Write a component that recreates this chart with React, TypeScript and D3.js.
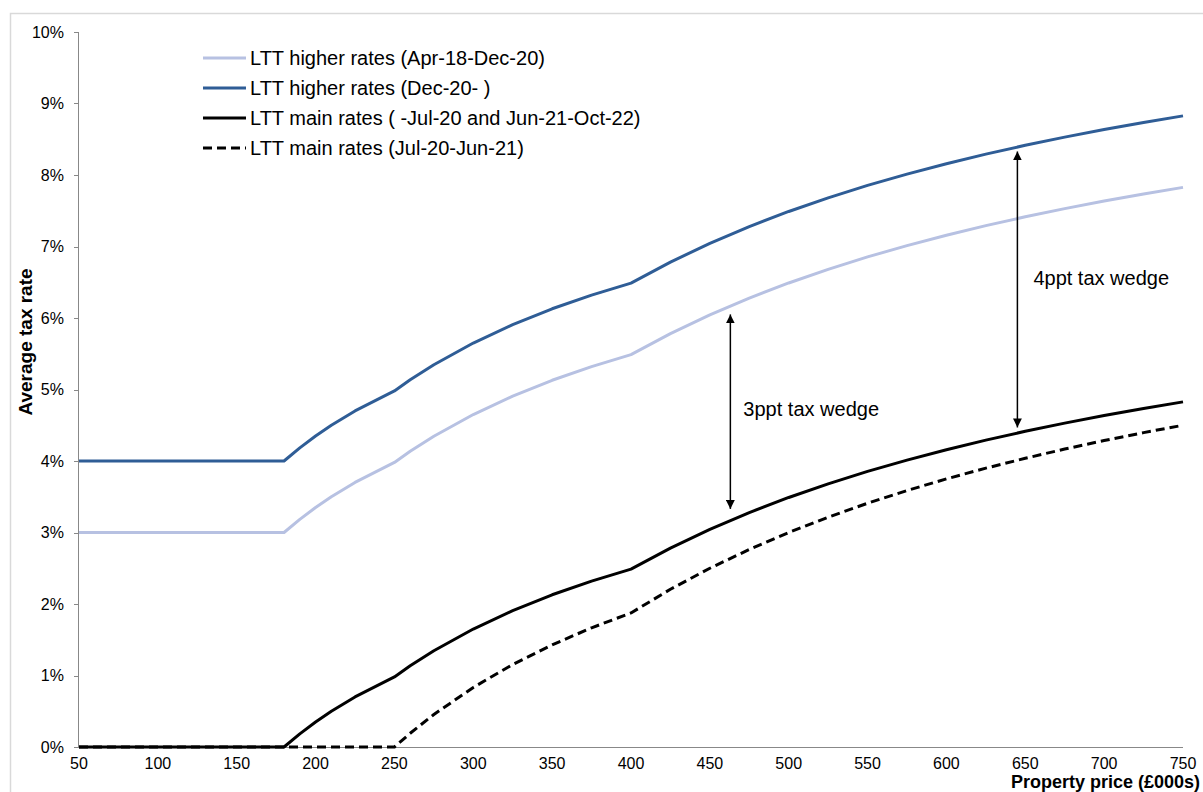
import React from "react";
import * as d3 from "d3";

// Property price (£000s)
const prices = [50, 100, 150, 180, 190, 200, 210, 225, 250, 260, 275, 300, 325, 350, 375, 400, 425, 450, 475, 500, 525, 550, 575, 600, 625, 650, 675, 700, 725, 750];

// Average tax rate (%) per series
const higherAprDec = [3, 3, 3, 3, 3.184, 3.35, 3.5, 3.7, 3.98, 4.135, 4.346, 4.65, 4.908, 5.129, 5.32, 5.488, 5.782, 6.044, 6.279, 6.49, 6.681, 6.855, 7.013, 7.158, 7.292, 7.415, 7.53, 7.636, 7.735, 7.827];
const higherDec = [4, 4, 4, 4, 4.184, 4.35, 4.5, 4.7, 4.98, 5.135, 5.346, 5.65, 5.908, 6.129, 6.32, 6.488, 6.782, 7.044, 7.279, 7.49, 7.681, 7.855, 8.013, 8.158, 8.292, 8.415, 8.53, 8.636, 8.735, 8.827];
const mainRates = [0, 0, 0, 0, 0.184, 0.35, 0.5, 0.7, 0.98, 1.135, 1.346, 1.65, 1.908, 2.129, 2.32, 2.488, 2.782, 3.044, 3.279, 3.49, 3.681, 3.855, 4.013, 4.158, 4.292, 4.415, 4.53, 4.636, 4.735, 4.827];
const mainJulJun = [0, 0, 0, 0, 0, 0, 0, 0, 0, 0.192, 0.455, 0.833, 1.154, 1.429, 1.667, 1.875, 2.206, 2.5, 2.763, 3.0, 3.214, 3.409, 3.587, 3.75, 3.9, 4.038, 4.167, 4.286, 4.397, 4.5];

const seriesNames = [
  "LTT higher rates (Apr-18-Dec-20)",
  "LTT higher rates (Dec-20- )",
  "LTT main rates ( -Jul-20 and Jun-21-Oct-22)",
  "LTT main rates (Jul-20-Jun-21)",
];

const xTicks = [50, 100, 150, 200, 250, 300, 350, 400, 450, 500, 550, 600, 650, 700, 750];
const yTicks = [0, 1, 2, 3, 4, 5, 6, 7, 8, 9, 10];

// annotations: [price, top rate, bottom rate, label]
const wedgeArrows: [number, number, number, string][] = [
  [463, 6.05, 3.33, "3ppt tax wedge"],
  [645, 8.33, 4.47, "4ppt tax wedge"],
];

const FONT = "Arial, 'Liberation Sans', Helvetica, sans-serif";

export default function App() {
  const W = 1203;
  const H = 792;
  const x = d3.scaleLinear().domain([50, 750]).range([79, 1183]);
  const y = d3.scaleLinear().domain([0, 10]).range([747, 32]);

  const mk = (vals: number[]) =>
    d3
      .line<number>()
      .x((_, i) => x(prices[i]))
      .y((v) => y(v))(vals) as string;

  const styles = [
    { data: higherAprDec, color: "#b7c1e2", dash: "" },
    { data: higherDec, color: "#2f5d96", dash: "" },
    { data: mainJulJun, color: "#000", dash: "9,5" },
    { data: mainRates, color: "#000", dash: "" },
  ];
  const legendStyles = [styles[0], styles[1], styles[3], styles[2]];

  return (
    <svg width={W} height={H} style={{ position: "absolute", left: 0, top: 0, background: "#fff" }}>
      <defs>
        <marker id="ah" viewBox="0 0 10 10" refX="10" refY="5" markerWidth="9" markerHeight="9" orient="auto-start-reverse" markerUnits="userSpaceOnUse">
          <path d="M0,0 L10,5 L0,10 z" fill="#000" />
        </marker>
      </defs>
      <rect x={10.5} y={13.5} width={1300} height={900} fill="#fff" stroke="#d9d9d9" strokeWidth={1.5} />

      {/* axes */}
      <line x1={78.5} x2={78.5} y1={y(10)} y2={y(0)} stroke="#888" strokeWidth={1} />
      <line x1={78} x2={1183} y1={747.5} y2={747.5} stroke="#888" strokeWidth={1} />
      {yTicks.map((t) => (
        <g key={t}>
          <line x1={74} x2={78.5} y1={Math.round(y(t)) + 0.5} y2={Math.round(y(t)) + 0.5} stroke="#888" />
          <text x={64} y={y(t)} dy="0.35em" textAnchor="end" fontFamily={FONT} fontSize={16} fill="#000">
            {t}%
          </text>
        </g>
      ))}
      {xTicks.map((t) => (
        <text key={t} x={x(t)} y={763} dy="0.35em" textAnchor="middle" fontFamily={FONT} fontSize={16} fill="#000">
          {t}
        </text>
      ))}

      {/* series */}
      {styles.map((s, i) => (
        <path key={i} d={mk(s.data)} fill="none" stroke={s.color} strokeWidth={3} strokeDasharray={s.dash || undefined} strokeLinejoin="round" />
      ))}

      {/* legend */}
      {seriesNames.map((n, i) => {
        const ly = 58 + i * 30;
        const s = legendStyles[i];
        return (
          <g key={n}>
            <line x1={203} x2={246} y1={ly} y2={ly} stroke={s.color} strokeWidth={3} strokeDasharray={s.dash || undefined} />
            <text x={250} y={ly} dy="0.35em" fontFamily={FONT} fontSize={20} fill="#000">
              {n}
            </text>
          </g>
        );
      })}

      {/* wedge arrows */}
      {wedgeArrows.map(([p, top, bot, label], i) => (
        <g key={label}>
          <line x1={x(p)} x2={x(p)} y1={y(top)} y2={y(bot)} stroke="#000" strokeWidth={1.5} markerStart="url(#ah)" markerEnd="url(#ah)" />
          <text x={x(p) + (i === 0 ? 13 : 16)} y={i === 0 ? 409 : 278} dy="0.35em" fontFamily={FONT} fontSize={20} fill="#000">
            {label}
          </text>
        </g>
      ))}

      {/* axis titles */}
      <text transform={`translate(32,${342}) rotate(-90)`} textAnchor="middle" fontFamily={FONT} fontWeight="bold" fontSize={19} fill="#000">
        Average tax rate
      </text>
      <text x={1200} y={788} textAnchor="end" fontFamily={FONT} fontWeight="bold" fontSize={18} fill="#000">
        Property price (£000s)
      </text>
    </svg>
  );
}
